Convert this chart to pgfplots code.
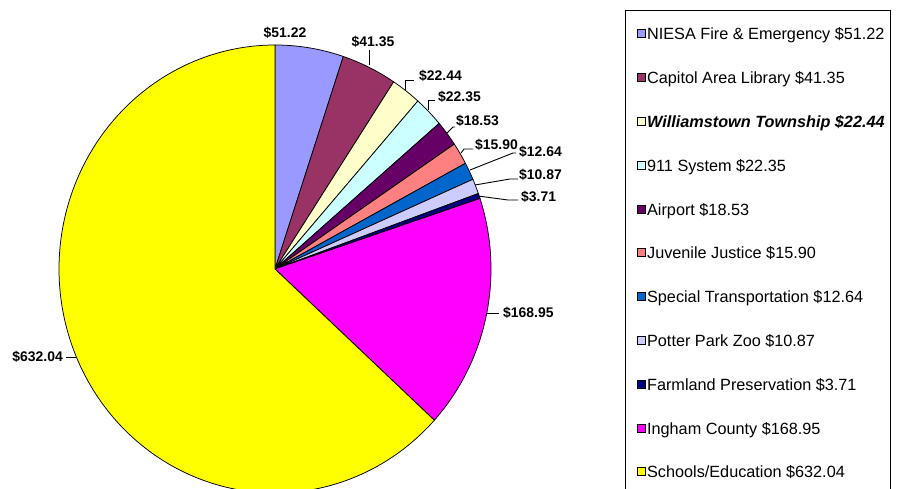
\documentclass[border=0pt]{standalone}
\usepackage{fontspec}
\setmainfont{Liberation Sans}
\usepackage{pgfplots}
\pgfplotsset{compat=1.18}
\definecolor{cNIESA}{HTML}{9999FF}
\definecolor{cCapitol}{HTML}{993366}
\definecolor{cWilliams}{HTML}{FFFFCC}
\definecolor{cNine}{HTML}{CCFFFF}
\definecolor{cAirport}{HTML}{660066}
\definecolor{cJuvenile}{HTML}{FF8080}
\definecolor{cSpecial}{HTML}{0066CC}
\definecolor{cPotter}{HTML}{CCCCFF}
\definecolor{cFarm}{HTML}{000080}
\definecolor{cIngham}{HTML}{FF00FF}
\definecolor{cSchools}{HTML}{FFFF00}
\def\piecum{0}
\newcommand\pieslice[2]{%
  \pgfmathsetmacro\angA{90-\piecum*0.36}%
  \pgfmathsetmacro\newcum{\piecum+#1}%
  \pgfmathsetmacro\angB{90-\newcum*0.36}%
  \xdef\piecum{\newcum}%
  \edef\doslice{\noexpand\addplot[fill=#2, draw=black, line width=0.75bp, domain=\angB:\angA, samples=200] ({275+216*cos(x)}, {220+224*sin(x)}) -- (axis cs:275,220) -- cycle;}%
  \doslice
}
\newcommand\lblfont{\fontsize{14}{16}\selectfont\bfseries}
\begin{document}
\begin{tikzpicture}
\begin{axis}[
  scale only axis, width=898bp, height=489bp,
  xmin=0, xmax=898, ymin=0, ymax=489,
  hide axis,
  legend cell align=left,
  legend style={at={(axis cs:625,479)}, anchor=north west, draw=black, line width=0.75bp, fill=white,
    inner xsep=5bp, inner ysep=15.5bp, row sep=27.8bp,
    font=\fontsize{16.3}{19}\selectfont,
    nodes={inner sep=0bp, inner xsep=1bp, text height=14bp, text depth=2bp}},
  legend image code/.code={\path (0bp,0bp); \draw[#1, draw=black, line width=0.75bp] (7bp,-4bp) rectangle (15bp,4bp);},
]
\pieslice{51.22}{cNIESA}
\addlegendentry{NIESA Fire \& Emergency \$51.22}
\pieslice{41.35}{cCapitol}
\addlegendentry{Capitol Area Library \$41.35}
\pieslice{22.44}{cWilliams}
\addlegendentry{\textbf{\textit{Williamstown Township \$22.44}}}
\pieslice{22.35}{cNine}
\addlegendentry{911 System \$22.35}
\pieslice{18.53}{cAirport}
\addlegendentry{Airport \$18.53}
\pieslice{15.90}{cJuvenile}
\addlegendentry{Juvenile Justice \$15.90}
\pieslice{12.64}{cSpecial}
\addlegendentry{Special Transportation \$12.64}
\pieslice{10.87}{cPotter}
\addlegendentry{Potter Park Zoo \$10.87}
\pieslice{3.71}{cFarm}
\addlegendentry{Farmland Preservation \$3.71}
\pieslice{168.95}{cIngham}
\addlegendentry{Ingham County \$168.95}
\pieslice{632.04}{cSchools}
\addlegendentry{Schools/Education \$632.04}
% leader lines
\addplot[black, line width=0.9bp, forget plot] coordinates {(369.3,439) (369.3,424)};
\addplot[black, line width=0.9bp, forget plot] coordinates {(405.7,399) (405.7,409) (414,409)};
\addplot[black, line width=0.9bp, forget plot] coordinates {(428.3,379) (428.3,389) (435,389)};
\addplot[black, line width=0.9bp, forget plot] coordinates {(447,356) (453,362) (455,362)};
\addplot[black, line width=0.9bp, forget plot] coordinates {(461,336) (464,340) (473,340)};
\addplot[black, line width=0.9bp, forget plot] coordinates {(470,319) (513,336) (516,336)};
\addplot[black, line width=0.9bp, forget plot] coordinates {(475,304) (510,310) (518,310)};
\addplot[black, line width=0.9bp, forget plot] coordinates {(478,293) (508,289) (518,289)};
\addplot[black, line width=0.9bp, forget plot] coordinates {(486,176) (499,176)};
\addplot[black, line width=0.9bp, forget plot] coordinates {(66,132) (76,132)};
% labels
\node[font=\lblfont, inner sep=0pt, anchor=center] at (axis cs:285,456) {\$51.22};
\node[font=\lblfont, inner sep=0pt, anchor=center] at (axis cs:373,447) {\$41.35};
\node[font=\lblfont, inner sep=0pt, anchor=west] at (axis cs:419,413) {\$22.44};
\node[font=\lblfont, inner sep=0pt, anchor=west] at (axis cs:438,392) {\$22.35};
\node[font=\lblfont, inner sep=0pt, anchor=west] at (axis cs:456,368) {\$18.53};
\node[font=\lblfont, inner sep=0pt, anchor=west] at (axis cs:475,344) {\$15.90};
\node[font=\lblfont, inner sep=0pt, anchor=west] at (axis cs:519,337) {\$12.64};
\node[font=\lblfont, inner sep=0pt, anchor=west] at (axis cs:519,314) {\$10.87};
\node[font=\lblfont, inner sep=0pt, anchor=west] at (axis cs:521,292) {\$3.71};
\node[font=\lblfont, inner sep=0pt, anchor=west] at (axis cs:503,176) {\$168.95};
\node[font=\lblfont, inner sep=0pt, anchor=east] at (axis cs:63,132) {\$632.04};
\end{axis}
\pgfresetboundingbox
\useasboundingbox (current axis.south west) rectangle (current axis.north east);
\end{tikzpicture}
\end{document}
